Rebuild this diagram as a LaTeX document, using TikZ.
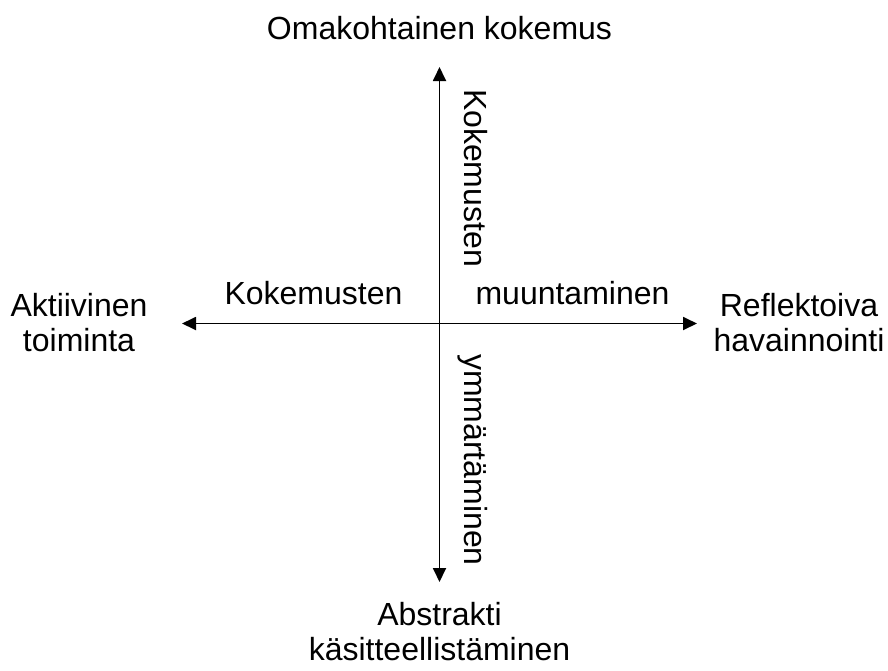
\documentclass[tikz,border=0pt]{standalone}
\usepackage{fontspec}
\setmainfont{Liberation Sans}
\usetikzlibrary{arrows.meta}
\begin{document}
\begin{tikzpicture}[x=1pt,y=-1pt,
  axis/.style={line width=1.8pt,{Triangle[length=14pt,width=13pt]}-{Triangle[length=14pt,width=13pt]}},
  lbl/.style={font=\fontsize{32}{35}\selectfont, inner sep=0pt, anchor=base, align=center}]
\useasboundingbox (0,0) rectangle (888,670);
\coordinate (top) at (439.5,67);
\coordinate (bot) at (439.5,582);
\coordinate (left) at (182,323.5);
\coordinate (right) at (697,323.5);
\draw[axis] (top) -- (bot);
\draw[axis] (left) -- (right);
\node[lbl] (ok) at (439.5,39) {Omakohtainen kokemus};
\node[lbl] (at1) at (79,316) {Aktiivinen};
\node[lbl] (at2) at (79,351) {toiminta};
\node[lbl] (rh1) at (799,316) {Reflektoiva};
\node[lbl] (rh2) at (799,351) {havainnointi};
\node[lbl] (ak1) at (439.5,625) {Abstrakti};
\node[lbl] (ak2) at (439.5,660) {käsitteellistäminen};
\node[lbl] (kh) at (313.5,304) {Kokemusten};
\node[lbl] (mh) at (572.5,304) {muuntaminen};
\node[lbl, rotate=-90] (kv) at (464,178) {Kokemusten};
\node[lbl, rotate=-90] (yv) at (464,460) {ymmärtäminen};
\end{tikzpicture}
\end{document}
